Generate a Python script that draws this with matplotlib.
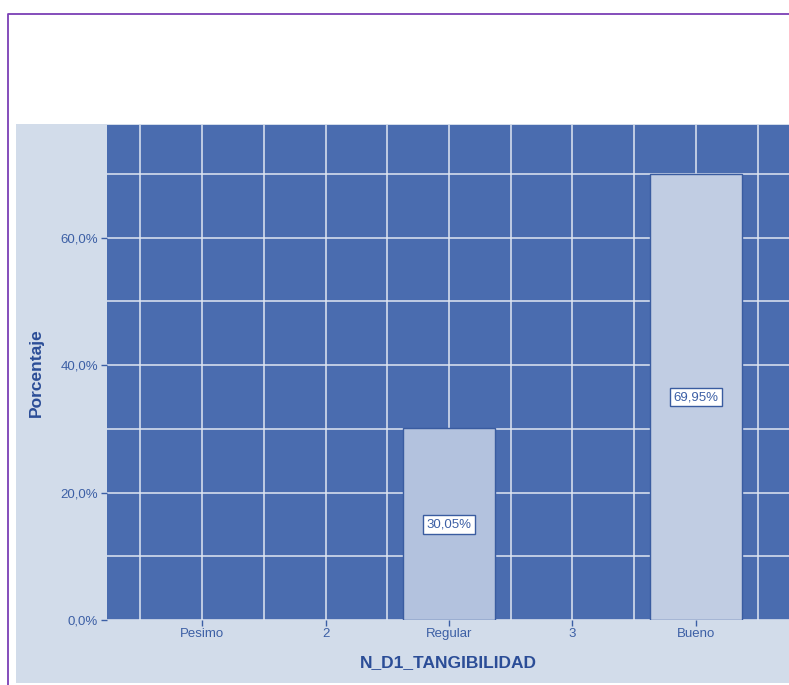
import matplotlib
matplotlib.use("Agg")
import matplotlib.pyplot as plt
from matplotlib.patches import Rectangle
from matplotlib.lines import Line2D

# Data
categories = ["Pesimo", "2", "Regular", "3", "Bueno"]
percentages = [0.0, 0.0, 30.05, 0.0, 69.95]
bar_labels = ["", "", "30,05%", "", "69,95%"]
y_ticks = [0, 20, 40, 60]
y_tick_labels = ["0,0%", "20,0%", "40,0%", "60,0%"]

plt.rcParams['font.family'] = ['Liberation Sans', 'DejaVu Sans']

W, H = 789, 685
fig = plt.figure(figsize=(W / 100, H / 100), dpi=100)
fig.patch.set_facecolor("white")

# Light chart panel behind the axes
panel = Rectangle((16 / W, 2 / H), 1.2, (683 - 124) / H, transform=fig.transFigure,
                  facecolor="#d2dcea", edgecolor="none", zorder=-10)
fig.patches.append(panel)

# Purple frame lines (top and left)
frame = Line2D([7.5 / W, 7.5 / W, 1.0], [0.0, 1 - 13.5 / H, 1 - 13.5 / H],
               transform=fig.transFigure, color="#7b3fb5", linewidth=1.3, zorder=-5)
fig.lines.append(frame)

left_px, right_px, top_px, bottom_px = 107, 791, 125, 620
ax = fig.add_axes([left_px / W, 1 - bottom_px / H,
                   (right_px - left_px) / W, (bottom_px - top_px) / H])
ax.set_zorder(1)
ax.set_facecolor("#4a6caf")

text_col = "#3c5fa5"
label_col = "#2b4d97"
edge_col = "#3a5ca0"
bar_cols = ["#b3c2de", "#b3c2de", "#b3c2de", "#b3c2de", "#c1cde3"]

x = list(range(len(categories)))
for i, (v, lab) in enumerate(zip(percentages, bar_labels)):
    if v <= 0:
        continue
    ax.bar(i, v, width=0.74, color=bar_cols[i], edgecolor=edge_col,
           linewidth=1.0, zorder=3)
    ax.text(i, v / 2, lab, ha="center", va="center", fontsize=9.5, color=text_col,
            zorder=4,
            bbox=dict(boxstyle="square,pad=0.25", facecolor="white",
                      edgecolor=edge_col, linewidth=1.0))

ax.set_xlim(-0.77, 4.77)
ax.set_ylim(0, 77.65)

# Grid: every half category and every 10 %
ax.set_xticks([i - 0.5 for i in range(6)], minor=True)
ax.set_yticks([i * 10 for i in range(8)], minor=True)
ax.set_axisbelow(True)
ax.grid(True, which="both", color="#dfe6f2", linewidth=1.1)
ax.tick_params(which="minor", length=0)

ax.set_xticks(x)
ax.set_xticklabels(categories)
ax.set_yticks(y_ticks)
ax.set_yticklabels(y_tick_labels)
ax.tick_params(axis="both", which="major", colors=text_col, labelcolor=text_col,
               labelsize=9.5, length=4.5, width=1.0)
ax.tick_params(axis="y", pad=2)
ax.tick_params(axis="x", pad=1.5)

for s in ax.spines.values():
    s.set_visible(False)

ax.set_xlabel("N_D1_TANGIBILIDAD", fontsize=12.5, fontweight="bold", color=label_col,
              va="center", ha="center")
ax.xaxis.set_label_coords(0.4985, -(663 - bottom_px) / (bottom_px - top_px))
ax.set_ylabel("Porcentaje", fontsize=12.5, fontweight="bold", color=label_col,
              va="center", ha="center")
ax.yaxis.set_label_coords(-(left_px - 36) / (right_px - left_px), 0.5)

fig.savefig("out.png", dpi=100)
